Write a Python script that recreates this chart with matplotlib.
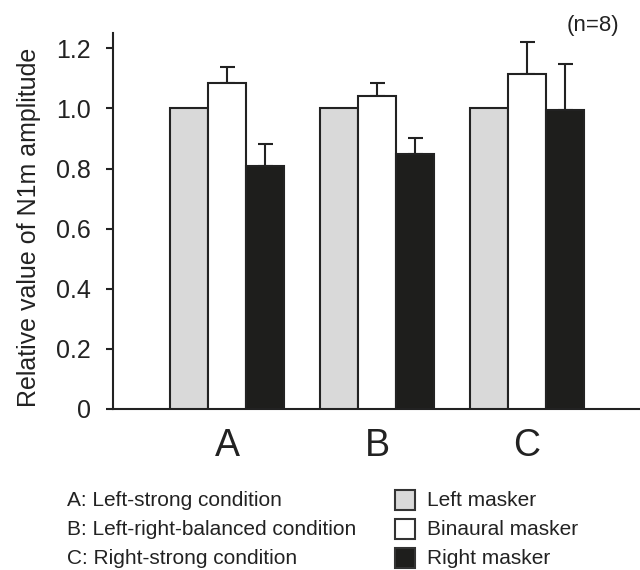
import numpy as np
import matplotlib
matplotlib.use('Agg')
import matplotlib.pyplot as plt
from matplotlib.patches import Rectangle

plt.rcParams['font.family'] = ['Liberation Sans', 'DejaVu Sans']

# data
conditions = ['A', 'B', 'C']
left_masker = [1.0, 1.0, 1.0]
binaural_masker = [1.084, 1.040, 1.113]
binaural_err = [0.055, 0.043, 0.107]
right_masker = [0.809, 0.849, 0.995]
right_err = [0.074, 0.054, 0.152]
yticks = [0, 0.2, 0.4, 0.6, 0.8, 1.0, 1.2]
ytick_labels = ['0', '0.2', '0.4', '0.6', '0.8', '1.0', '1.2']
condition_notes = ['A: Left-strong condition',
                   'B: Left-right-balanced condition',
                   'C: Right-strong condition']
series_names = ['Left masker', 'Binaural masker', 'Right masker']
series_colors = ['#d9d9d9', '#ffffff', '#1e1e1c']

fig = plt.figure(figsize=(6.4, 5.7), dpi=100)
ax = fig.add_axes([0.1773, 0.2825, 0.8227, 0.6591])

x = np.arange(len(conditions))
w = 0.2533
edge = '#222222'
zeros = np.zeros(len(conditions))

ax.bar(x - w, left_masker, w, color=series_colors[0], edgecolor=edge, linewidth=1.5, zorder=3)
ax.errorbar(x, binaural_masker, yerr=[zeros, binaural_err], fmt='none',
            ecolor=edge, elinewidth=1.5, capsize=5.4, capthick=1.5, zorder=2)
ax.bar(x, binaural_masker, w, color=series_colors[1], edgecolor=edge, linewidth=1.5, zorder=3)
ax.errorbar(x + w, right_masker, yerr=[zeros, right_err], fmt='none',
            ecolor=edge, elinewidth=1.5, capsize=5.4, capthick=1.5, zorder=2)
ax.bar(x + w, right_masker, w, color=series_colors[2], edgecolor=edge, linewidth=1.5, zorder=3)

ax.set_xlim(-0.757, 2.753)
ax.set_ylim(0, 1.25)
ax.set_yticks(yticks)
ax.set_yticklabels(ytick_labels)
ax.set_xticks(x)
ax.set_xticklabels(conditions)

for s in ['top', 'right']:
    ax.spines[s].set_visible(False)
for s in ['left', 'bottom']:
    ax.spines[s].set_linewidth(1.5)
    ax.spines[s].set_color(edge)
ax.tick_params(axis='y', length=5, width=1.5, color=edge, pad=11, labelsize=18, labelcolor='#222222')
ax.tick_params(axis='x', length=0, pad=13.5, labelsize=27, labelcolor='#222222')

ax.set_ylabel('Relative value of N1m amplitude', fontsize=18, color='#222222')
ax.yaxis.set_label_coords(-0.138, 0.483)

fig.text(619 / 640, 1 - 25.5 / 570, '(n=8)', ha='right', va='center', fontsize=16, color='#222222')

# legend area
baselines = [506, 535, 564]
for i in range(3):
    yb = 1 - baselines[i] / 570
    fig.text(67 / 640, yb, condition_notes[i], ha='left', va='baseline', fontsize=15, color='#222222')
    fig.add_artist(Rectangle((395 / 640, 1 - (baselines[i] + 4) / 570), 20 / 640, 20 / 570,
                             transform=fig.transFigure, facecolor=series_colors[i],
                             edgecolor='#333333', linewidth=1.5))
    fig.text(427 / 640, yb, series_names[i], ha='left', va='baseline', fontsize=15, color='#222222')

plt.savefig('out.png', dpi=100)
